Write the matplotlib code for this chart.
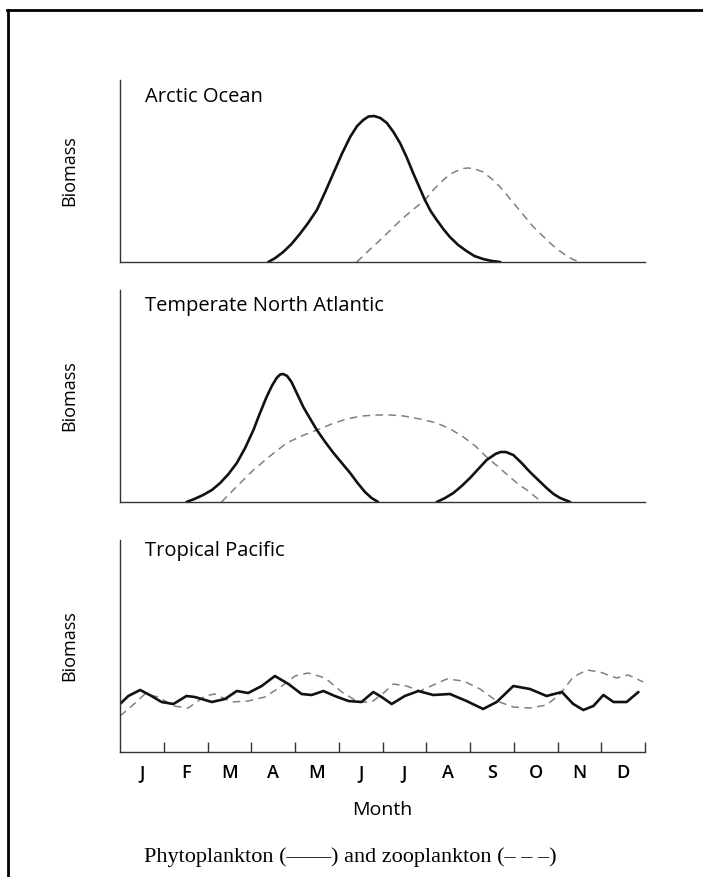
import numpy as np
import matplotlib.pyplot as plt
from matplotlib.lines import Line2D

plt.rcParams['font.family'] = ['Open Sans', 'DejaVu Sans']

# month axis: 0..12, one unit per month
months = ['J', 'F', 'M', 'A', 'M', 'J', 'J', 'A', 'S', 'O', 'N', 'D']

# Arctic Ocean
arc_phyto_x = [3.39, 3.55, 3.73, 3.92, 4.11, 4.30, 4.50, 4.69, 4.88, 5.07, 5.26, 5.42, 5.56, 5.68, 5.81,
               5.95, 6.10, 6.25, 6.40, 6.55, 6.70, 6.84, 6.97, 7.10, 7.24, 7.39, 7.54, 7.73, 7.92, 8.10,
               8.30, 8.50, 8.69]
arc_phyto_y = [0.0, 0.04, 0.10, 0.18, 0.28, 0.39, 0.52, 0.70, 0.89, 1.08, 1.25, 1.36, 1.42, 1.455, 1.46,
               1.44, 1.39, 1.30, 1.19, 1.05, 0.89, 0.75, 0.62, 0.51, 0.42, 0.33, 0.25, 0.17, 0.11, 0.06,
               0.03, 0.01, 0.0]
arc_zoo_x = [5.41, 5.70, 6.02, 6.30, 6.55, 6.77, 6.97, 7.18, 7.39, 7.55, 7.70, 7.83, 7.96, 8.12, 8.30,
             8.50, 8.69, 8.88, 9.07, 9.26, 9.45, 9.64, 9.83, 10.02, 10.21, 10.36, 10.51]
arc_zoo_y = [0.0, 0.12, 0.25, 0.37, 0.47, 0.55, 0.62, 0.73, 0.82, 0.88, 0.91, 0.935, 0.94, 0.93, 0.90,
             0.83, 0.75, 0.65, 0.55, 0.45, 0.35, 0.27, 0.19, 0.12, 0.06, 0.025, 0.0]

# Temperate North Atlantic
tna_phyto1_x = [1.52, 1.70, 1.90, 2.10, 2.29, 2.48, 2.67, 2.86, 3.05, 3.20, 3.35, 3.47, 3.58, 3.66, 3.73,
                3.82, 3.92, 4.05, 4.19, 4.35, 4.50, 4.69, 4.88, 5.07, 5.26, 5.43, 5.60, 5.75, 5.90]
tna_phyto1_y = [0.0, 0.03, 0.07, 0.12, 0.19, 0.28, 0.39, 0.54, 0.72, 0.89, 1.05, 1.16, 1.24, 1.275, 1.28,
                1.26, 1.20, 1.08, 0.95, 0.83, 0.72, 0.60, 0.49, 0.39, 0.29, 0.19, 0.10, 0.04, 0.0]
tna_phyto2_x = [7.24, 7.43, 7.62, 7.81, 8.00, 8.19, 8.38, 8.58, 8.70, 8.82, 8.99, 9.18, 9.37, 9.56, 9.75,
                9.91, 10.06, 10.29]
tna_phyto2_y = [0.0, 0.04, 0.09, 0.16, 0.24, 0.33, 0.42, 0.48, 0.50, 0.50, 0.47, 0.39, 0.30, 0.22, 0.14,
                0.08, 0.04, 0.0]
tna_zoo_x = [2.32, 2.68, 3.05, 3.43, 3.81, 4.15, 4.50, 4.84, 5.18, 5.52, 5.87, 6.18, 6.48, 6.86, 7.24,
             7.55, 7.85, 8.12, 8.38, 8.65, 8.91, 9.10, 9.30, 9.47, 9.64]
tna_zoo_y = [0.0, 0.16, 0.32, 0.46, 0.59, 0.66, 0.72, 0.78, 0.83, 0.86, 0.87, 0.87, 0.86, 0.83, 0.79,
             0.73, 0.65, 0.56, 0.45, 0.35, 0.25, 0.18, 0.12, 0.06, 0.0]

# Tropical Pacific
tp_phyto_x = [0.0, 0.19, 0.46, 0.72, 0.95, 1.22, 1.52, 1.71, 2.10, 2.40, 2.67, 2.93, 3.24, 3.54,
              3.85, 4.15, 4.38, 4.65, 4.91, 5.22, 5.52, 5.79, 5.98, 6.21, 6.51, 6.82, 7.16, 7.54,
              7.92, 8.30, 8.61, 8.99, 9.37, 9.75, 10.10, 10.36, 10.59, 10.82, 11.05, 11.28, 11.58, 11.85]
tp_phyto_y = [0.48, 0.56, 0.62, 0.56, 0.50, 0.48, 0.56, 0.55, 0.50, 0.53, 0.61, 0.59, 0.66, 0.76,
              0.68, 0.58, 0.57, 0.61, 0.56, 0.51, 0.50, 0.60, 0.55, 0.48, 0.56, 0.61, 0.57, 0.58,
              0.51, 0.43, 0.50, 0.66, 0.63, 0.56, 0.60, 0.48, 0.42, 0.46, 0.57, 0.50, 0.50, 0.60]
tp_zoo_x = [0.0, 0.27, 0.57, 0.88, 1.22, 1.56, 1.94, 2.17, 2.55, 2.93, 3.31, 3.70, 4.00, 4.30,
            4.69, 5.07, 5.45, 5.75, 6.00, 6.25, 6.55, 6.86, 7.16, 7.47, 7.85, 8.23, 8.61, 8.99,
            9.37, 9.75, 10.06, 10.36, 10.67, 10.97, 11.35, 11.62, 11.96]
tp_zoo_y = [0.36, 0.46, 0.58, 0.55, 0.46, 0.44, 0.56, 0.58, 0.50, 0.51, 0.55, 0.66, 0.76, 0.79,
            0.74, 0.60, 0.50, 0.50, 0.58, 0.68, 0.66, 0.61, 0.67, 0.73, 0.71, 0.63, 0.51, 0.45,
            0.44, 0.47, 0.58, 0.75, 0.82, 0.80, 0.74, 0.77, 0.70]

panels = [
    ('Arctic Ocean', [(arc_phyto_x, arc_phyto_y)], [(arc_zoo_x, arc_zoo_y)], 1.82, 0.905),
    ('Temperate North Atlantic', [(tna_phyto1_x, tna_phyto1_y), (tna_phyto2_x, tna_phyto2_y)],
     [(tna_zoo_x, tna_zoo_y)], 2.12, 0.925),
    ('Tropical Pacific', [(tp_phyto_x, tp_phyto_y)], [(tp_zoo_x, tp_zoo_y)], 2.12, 0.95),
]

W, H = 703, 877
fig = plt.figure(figsize=(W / 100, H / 100), dpi=100)

# axes boxes in pixels: (left, top, right, bottom)
boxes = [(120, 80, 645, 262), (120, 290, 645, 502), (120, 540, 645, 752)]

axes = []
for (title, phyto, zoo, ymax, ty), (l, t, r, b) in zip(panels, boxes):
    ax = fig.add_axes([l / W, 1 - b / H, (r - l) / W, (b - t) / H])
    for xs, ys in zoo:
        ax.plot(xs, ys, color='#808080', lw=1.1, ls=(0, (5, 3.5)))
    for xs, ys in phyto:
        ax.plot(xs, ys, color='#111111', lw=1.9, solid_joinstyle='round', solid_capstyle='round')
    ax.set_xlim(0, 12)
    ax.set_ylim(0, ymax)
    for s in ['top', 'right']:
        ax.spines[s].set_visible(False)
    for s in ['left', 'bottom']:
        ax.spines[s].set_color('#333333')
        ax.spines[s].set_linewidth(1.0)
    ax.set_yticks([])
    ax.set_xticks([])
    ax.set_ylabel('Biomass', fontsize=13, fontweight='medium', labelpad=30)
    ax.text(0.048, ty, title, transform=ax.transAxes, fontsize=14.5, fontweight='medium',
            va='center', ha='left')
    axes.append(ax)

ax = axes[-1]
ax.set_xticks(np.arange(1, 13))
ax.set_xticklabels([])
ax.tick_params(axis='x', which='major', direction='in', length=7, width=1.0, color='#333333')
ax.set_xticks(np.arange(12) + 0.5, minor=True)
ax.set_xticklabels(months, minor=True, fontsize=13, fontweight='semibold')
ax.tick_params(axis='x', which='minor', length=0, pad=9)
ax.set_xlabel('Month', fontsize=14, fontweight='medium', labelpad=13)

fig.text(350 / W, 1 - 857 / H, 'Phytoplankton (\u2014\u2014) and zooplankton (\u2013 \u2013 \u2013)',
         family=['Liberation Serif', 'DejaVu Serif'], fontsize=16, ha='center', va='center')

# frame lines of the page (top and left)
fig.add_artist(Line2D([7 / W, 1], [1 - 10 / H, 1 - 10 / H], color='black', lw=2))
fig.add_artist(Line2D([8 / W, 8 / W], [1 - 10 / H, 0], color='black', lw=2))

fig.savefig('out.png', dpi=100)
